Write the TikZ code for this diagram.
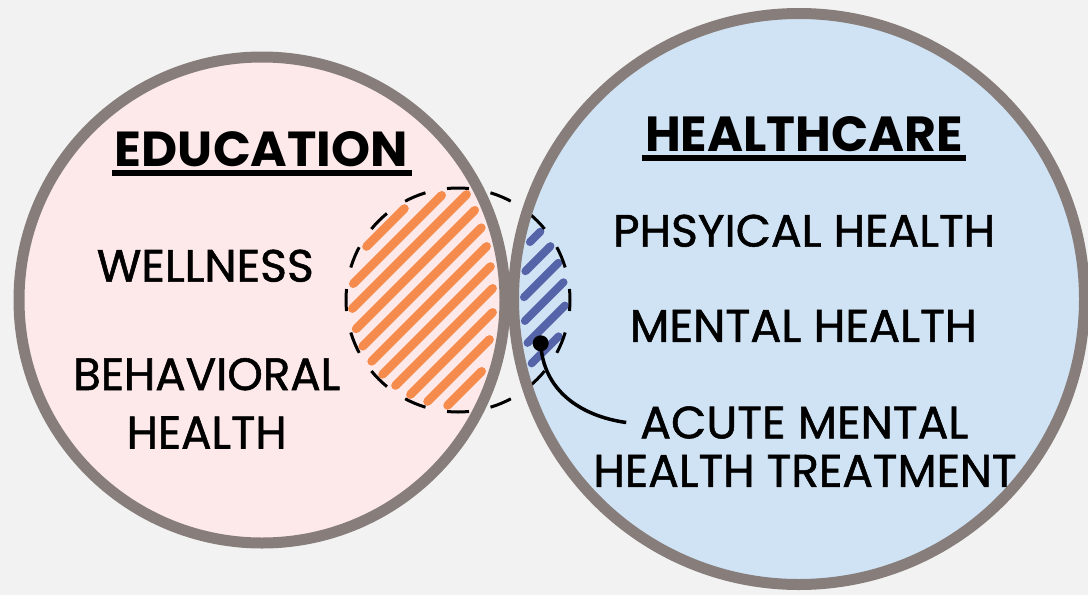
\documentclass[tikz,border=0pt]{standalone}
\usepackage{fontspec}
\usepackage{graphicx}
\newfontfamily\pop{Poppins}
\newfontfamily\popm[BoldFont={Poppins}, BoldFeatures={FakeBold=1.2}]{Poppins}
\newcommand\medtext{\popm\bfseries}
\definecolor{bgcol}{HTML}{F2F2F2}
\definecolor{pinkfill}{HTML}{FDE9E9}
\definecolor{bluefill}{HTML}{D0E3F4}
\definecolor{ringgray}{HTML}{877E7B}
\definecolor{hatchorange}{HTML}{F58B4C}
\definecolor{hatchblue}{HTML}{5563A8}
\begin{document}
\begin{tikzpicture}[x=1pt,y=-1pt,
  ring/.style={draw=ringgray, line width=11pt},
  lbl/.style={inner sep=0pt, outer sep=0pt, text=black},
  hatchO/.style={draw=hatchorange, line width=8.5pt, line cap=round},
  hatchB/.style={draw=hatchblue, line width=8pt, line cap=round},
  dashring/.style={draw=black, line width=3pt, dash pattern=on 22pt off 21.98pt, dash phase=11pt},
  leader/.style={draw=black, line width=3.5pt},
  uline/.style={draw=black, line width=6pt}]
\useasboundingbox (0,0) rectangle (1088,595);
\clip (0,0) rectangle (1088,595);
\fill[bgcol] (0,0) rectangle (1088,595);
\coordinate (L) at (262,300);
\coordinate (R) at (799,299);
\coordinate (D) at (458,300);
% fills
\fill[pinkfill] (L) circle[radius=243];
\fill[bluefill] (R) circle[radius=285.5];
% orange hatching (education side of the dashed circle)
\foreach \k in {0,...,10}{
  \pgfmathsetmacro\S{61.3+2.4*\k}
  \pgfmathsetmacro\dA{abs(45.8+30.0-\S)/sqrt(2)}
  \pgfmathsetmacro\hA{sqrt(max(10.6*10.6-\dA*\dA,0))}
  \pgfmathsetmacro\tA{(45.8-30.0)/sqrt(2)}
  \pgfmathsetmacro\dB{abs(26.2+30.0-\S)/sqrt(2)}
  \pgfmathsetmacro\hB{sqrt(max(23.1*23.1-\dB*\dB,0))}
  \pgfmathsetmacro\tB{(26.2-30.0)/sqrt(2)}
  \pgfmathsetmacro\lo{max(\tA-\hA,\tB-\hB)}
  \pgfmathsetmacro\hi{min(\tA+\hA,\tB+\hB)}
  \ifdim\hi pt>\lo pt
    \draw[hatchO] ({10*(\S/2+\lo/sqrt(2))},{10*(\S/2-\lo/sqrt(2))}) -- ({10*(\S/2+\hi/sqrt(2))},{10*(\S/2-\hi/sqrt(2))});
  \fi
}
% blue hatching (healthcare side)
\foreach \k in {0,...,5}{
  \pgfmathsetmacro\S{77.2+2.46*\k}
  \pgfmathsetmacro\dA{abs(45.8+30.0-\S)/sqrt(2)}
  \pgfmathsetmacro\hA{sqrt(max(10.7*10.7-\dA*\dA,0))}
  \pgfmathsetmacro\tA{(45.8-30.0)/sqrt(2)}
  \pgfmathsetmacro\dB{abs(79.9+29.9-\S)/sqrt(2)}
  \pgfmathsetmacro\hB{sqrt(max(27.5*27.5-\dB*\dB,0))}
  \pgfmathsetmacro\tB{(79.9-29.9)/sqrt(2)}
  \pgfmathsetmacro\lo{max(\tA-\hA,\tB-\hB)}
  \pgfmathsetmacro\hi{min(\tA+\hA,\tB+\hB)}
  \ifdim\hi pt>\lo pt
    \draw[hatchB] ({10*(\S/2+\lo/sqrt(2))},{10*(\S/2-\lo/sqrt(2))}) -- ({10*(\S/2+\hi/sqrt(2))},{10*(\S/2-\hi/sqrt(2))});
  \fi
}
% dashed overlap circle
\draw[dashring] (D) circle[radius=112];
% rings
\draw[ring] (L) circle[radius=243];
\draw[ring] (R) circle[radius=285.5];
% texts
\node[lbl] (edu) at (261.5,149.2) {\resizebox{293pt}{35pt}{\pop\bfseries EDUCATION}};
\draw[uline] (111.7,173) -- (411.7,173);
\node[lbl] (hc) at (804.2,134.2) {\resizebox{318pt}{35pt}{\pop\bfseries HEALTHCARE}};
\draw[uline] (641.7,158) -- (966,158);
\node[lbl] (well) at (205.3,265.8) {\resizebox{217pt}{32pt}{\medtext WELLNESS}};
\node[lbl] (behav) at (206.7,374.2) {\resizebox{267pt}{32pt}{\medtext BEHAVIORAL}};
\node[lbl] (behavh) at (206.7,432.5) {\resizebox{160pt}{32pt}{\medtext HEALTH}};
\node[lbl] (phys) at (804.2,230.8) {\resizebox{382pt}{32pt}{\medtext PHSYICAL HEALTH}};
\node[lbl] (ment) at (803.3,325.8) {\resizebox{347pt}{32pt}{\medtext MENTAL HEALTH}};
\node[lbl] (acute) at (804.2,422.5) {\resizebox{328pt}{32pt}{\medtext ACUTE MENTAL}};
\node[lbl] (treat) at (805,470.8) {\resizebox{423pt}{32pt}{\medtext HEALTH TREATMENT}};
% leader
\node[circle, fill=black, minimum size=16pt, inner sep=0pt] (dot) at (540.7,343.3) {};
\draw[leader] (dot.center) .. controls (543,390) and (580,416) .. ([xshift=-14pt]acute.west);
\end{tikzpicture}
\end{document}
